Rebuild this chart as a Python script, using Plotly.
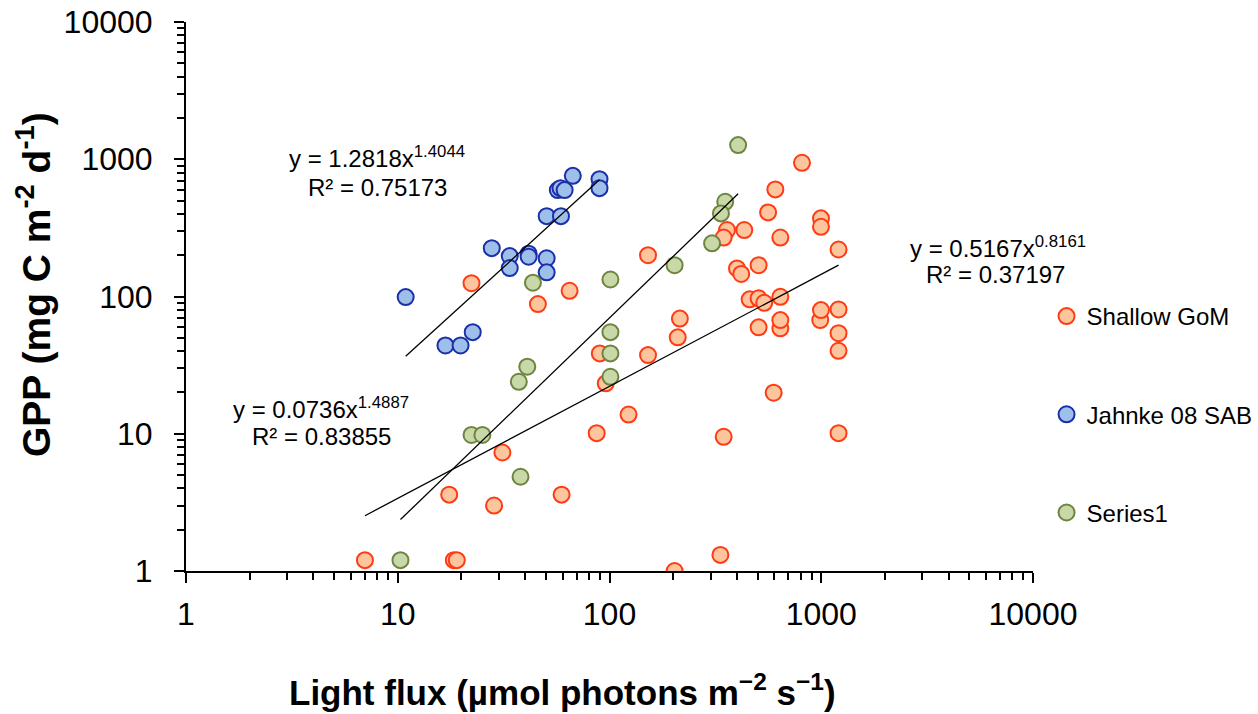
import numpy as np
import plotly.graph_objects as go

# ---------------- data ----------------
gom_x = [7.0, 18.4, 19.0, 17.5, 28.5, 31.2, 59.4, 87, 90, 96, 123, 152, 210, 215, 596, 346,
         1207, 334, 203, 1207, 1207, 506, 641, 641, 989, 997, 1207, 152, 811, 607, 561, 997,
         997, 641, 1207, 359, 433, 346, 400, 419, 506, 459, 506, 538, 641, 22.3, 64.8, 45.9]
gom_y = [1.2, 1.2, 1.2, 3.6, 3.0, 7.3, 3.6, 10.1, 38.5, 23.3, 13.8, 37.4, 50.4, 69, 19.9, 9.5,
         10.1, 1.31, 1.0, 54, 40.2, 59.6, 58.6, 67.3, 67.3, 79.6, 80.5, 200, 942, 603, 410, 371,
         322, 269, 220, 305, 305, 269, 160, 146, 169, 95.3, 97, 90, 99.5, 125, 110, 88]

sab_x = [10.9, 16.8, 19.8, 22.6, 27.8, 33.8, 33.8, 41.5, 41.5, 50.5, 50.5, 50.5, 59, 57, 58.7,
         61.4, 67.1, 89.7, 89.7]
sab_y = [99, 44, 44, 55, 225, 197, 161, 205, 195, 190, 150, 385, 385, 596, 616, 596, 757, 716, 616]

s1_x = [405, 352, 336, 305, 203, 101, 101, 101, 101, 43.5, 40.9, 37.3, 22.3, 25.1, 38, 10.3]
s1_y = [1268, 490, 403, 244, 169, 133, 55, 38.5, 26, 126, 30.8, 23.9, 9.8, 9.8, 4.86, 1.2]

series_names = ["Shallow GoM", "Jahnke 08 SAB", "Series1"]
# power-law trendline coefficients shown on the chart: y = a * x^b
fit_a = [0.5167, 1.2818, 0.0736]
fit_b = [0.8161, 1.4044, 1.4887]
fit_r2 = ["0.37197", "0.75173", "0.83855"]

tick_vals = [1, 10, 100, 1000, 10000]
tick_text = ["1", "10", "100", "1000", "10000"]

# ---------------- styles ----------------
FONT = "Arial, 'Liberation Sans', sans-serif"
fills = ["#FCC59E", "#9DBFEA", "#C8D8A8"]
edges = ["#FF3B14", "#1B2FA8", "#6E8540"]

xs = [gom_x, sab_x, s1_x]
ys = [gom_y, sab_y, s1_y]

fig = go.Figure()
for i in range(3):
    fig.add_trace(go.Scatter(
        x=xs[i], y=ys[i], mode="markers", name=series_names[i],
        legendgroup=series_names[i],
        marker=dict(size=16, color=fills[i], line=dict(color=edges[i], width=2)),
    ))

for i in range(3):
    xx = np.logspace(np.log10(min(xs[i])), np.log10(max(xs[i])), 60)
    yy = fit_a[i] * xx ** fit_b[i]
    fig.add_trace(go.Scatter(x=xx, y=yy, mode="lines", showlegend=False,
                             line=dict(color="black", width=1.3), hoverinfo="skip"))

minor_vals = [m * 10 ** d for d in range(4) for m in range(2, 10)]

L, R, T, B = 186, 1033, 22, 571
W, H = 1258, 714


def px(xp, yp):
    return (xp - L) / (R - L), (B - yp) / (B - T)


ann = []
eq_pos = [((998, 247), (995, 274)), ((377, 157), (377, 187)), ((321, 408), (321, 436))]
for i in range(3):
    (x1, y1), (x2, y2) = eq_pos[i]
    a1, b1 = px(x1, y1)
    a2, b2 = px(x2, y2)
    ann.append(dict(x=a1, y=b1, xref="paper", yref="paper", showarrow=False,
                    text=f"y = {fit_a[i]}x<sup>{fit_b[i]}</sup>",
                    font=dict(family=FONT, size=24, color="black"), xanchor="center", yanchor="middle"))
    ann.append(dict(x=a2, y=b2, xref="paper", yref="paper", showarrow=False,
                    text=f"R² = {fit_r2[i]}",
                    font=dict(family=FONT, size=24, color="black"), xanchor="center", yanchor="middle"))

tx, ty = px(562, 690)
ann.append(dict(x=tx, y=ty, xref="paper", yref="paper", showarrow=False,
                text="<b>Light flux (µmol photons m<sup>−2</sup> s<sup>−1</sup>)</b>",
                font=dict(family=FONT, size=35, color="black"), xanchor="center", yanchor="middle"))
tx, ty = px(33, 285)
ann.append(dict(x=tx, y=ty, xref="paper", yref="paper", showarrow=False, textangle=-90,
                text="<b>GPP (mg C m<sup>-2</sup> d<sup>-1</sup>)</b>",
                font=dict(family=FONT, size=39, color="black"), xanchor="center", yanchor="middle"))

axis_common = dict(
    type="log", range=[0, 4], showgrid=False, zeroline=False,
    showline=True, linecolor="black", linewidth=2,
    ticks="outside", ticklen=10, tickwidth=2, tickcolor="black",
    tickvals=tick_vals, ticktext=tick_text,
    tickfont=dict(family=FONT, size=32, color="black"),
    automargin=False,
    minor=dict(ticks="outside", ticklen=7, tickwidth=1.5, tickcolor="black",
               tickvals=minor_vals, showgrid=False),
)

fig.update_layout(
    width=W, height=H,
    margin=dict(l=L, r=W - R, t=T, b=H - B, autoexpand=False),
    paper_bgcolor="white", plot_bgcolor="white",
    xaxis=dict(**axis_common, ticklabelstandoff=4),
    yaxis=dict(**axis_common, ticklabelstandoff=15),
    showlegend=True,
    legend=dict(x=1.016, y=(B - 294) / (B - T), xanchor="left", yanchor="top",
                font=dict(family=FONT, size=24, color="black"),
                tracegroupgap=64, itemwidth=30, bgcolor="rgba(0,0,0,0)"),
    annotations=ann,
)

fig.write_html("out.html")
